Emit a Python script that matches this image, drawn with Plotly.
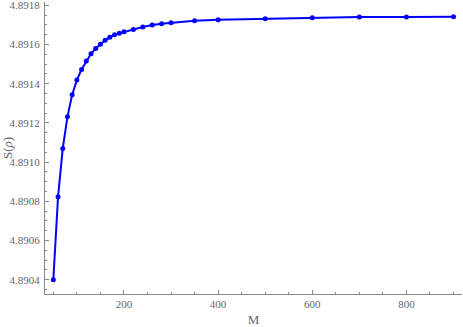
import plotly.graph_objs as go

M = [50, 60, 70, 80, 90, 100, 110, 120, 130, 140, 150, 160, 170, 180, 190,
     200, 220, 240, 260, 280, 300, 350, 400, 500, 600, 700, 800, 900]
S = [4.890400, 4.890823, 4.891070, 4.891232, 4.891344, 4.891419, 4.891473,
     4.891516, 4.891553, 4.891580, 4.891602, 4.891622, 4.891637, 4.891650,
     4.891657, 4.891665, 4.891677, 4.891689, 4.891700, 4.891706, 4.891711,
     4.891721, 4.891727, 4.891732, 4.891737, 4.891740, 4.891740, 4.891742]

x_ticks = [200, 400, 600, 800]
y_ticks = [4.8904, 4.8906, 4.8908, 4.8910, 4.8912, 4.8914, 4.8916, 4.8918]

serif = "Liberation Serif, Times New Roman, serif"

axis_style = dict(
    showline=True,
    linecolor="#888888",
    linewidth=1,
    showgrid=False,
    zeroline=False,
    ticks="inside",
    ticklen=4,
    tickcolor="#888888",
    automargin=False,
    tickfont=dict(family=serif, size=11, color="#666666"),
)

fig = go.Figure(
    data=[
        go.Scatter(
            x=M,
            y=S,
            mode="lines+markers",
            line=dict(color="#0000ff", width=2),
            marker=dict(color="#0000ff", size=5),
            showlegend=False,
        )
    ],
    layout=go.Layout(
        width=463,
        height=327,
        margin=dict(l=45, r=1, t=2, b=33),
        font=dict(family=serif, size=11, color="#666666"),
        plot_bgcolor="white",
        paper_bgcolor="white",
        xaxis=dict(
            axis_style,
            range=[32.3, 918],
            tickvals=x_ticks,
            ticktext=[str(v) for v in x_ticks],
            minor=dict(ticks="inside", dtick=50, ticklen=2, tickcolor="#888888"),
            title=dict(text="M", standoff=6),
        ),
        yaxis=dict(
            axis_style,
            range=[4.890327, 4.891817],
            tickvals=y_ticks,
            ticktext=["%.4f" % v for v in y_ticks],
            minor=dict(ticks="inside", dtick=0.00005, tick0=4.8904, ticklen=2,
                       tickcolor="#888888"),
            ticklabelstandoff=2,
            ticklabeloverflow="allow",
            title=dict(text="S(<i>ρ</i>)", standoff=4),
        ),
    ),
)

fig.write_html("out.html", config={"displayModeBar": False},
               post_script="document.body.style.margin='0';")
